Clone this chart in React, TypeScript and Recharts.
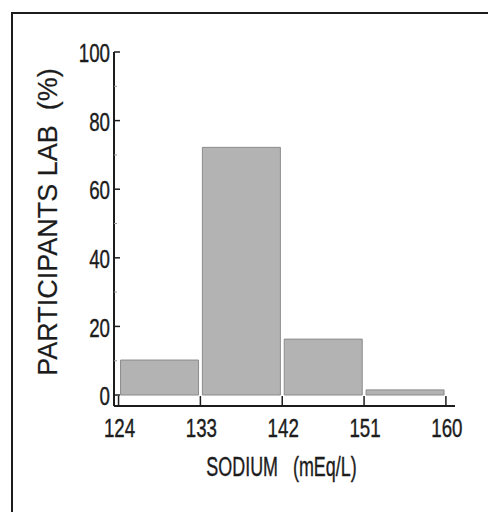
import React from 'react';
import { BarChart, Bar, XAxis, YAxis } from 'recharts';

// Histogram bins (SODIUM mEq/L) and percentages
const binEdges = [124, 133, 142, 151, 160];
const percentValues = [10.2, 72.2, 16.3, 1.5];
const yTicks = [0, 10, 20, 30, 40, 50, 60, 70, 80, 90, 100];
const xTicks = [124, 133, 142, 151, 160];
const xLabel = 'SODIUM   (mEq/L)';
const yLabel = 'PARTICIPANTS LAB  (%)';

const data = percentValues.map((v, i) => ({
  mid: (binEdges[i] + binEdges[i + 1]) / 2,
  pct: v,
}));

const INK = '#1c1c1c';
const FONT = '"Liberation Sans", Arial, sans-serif';

function YTick(props: any) {
  const { x, y, payload } = props;
  const v = payload.value;
  const major = v % 20 === 0;
  return (
    <g>
      <line
        x1={x}
        y1={y}
        x2={x + (major ? 6 : 3)}
        y2={y}
        stroke={major ? INK : '#999'}
        strokeWidth={major ? 1.5 : 1}
      />
      {major && (
        <text
          transform={`translate(${x - 4},${y + 1}) scale(0.72,1)`}
          textAnchor="end"
          dominantBaseline="central"
          fontSize={26}
          fill={INK}
          stroke={INK}
          strokeWidth={0.4}
          fontFamily={FONT}
        >
          {v}
        </text>
      )}
    </g>
  );
}

function XTick(props: any) {
  const { x, y, payload } = props;
  return (
    <g>
      <line x1={x} y1={y} x2={x} y2={y - 10} stroke={INK} strokeWidth={1.5} />
      <text
        transform={`translate(${x + 1},${y + 22}) scale(0.72,1)`}
        textAnchor="middle"
        dominantBaseline="central"
        fontSize={26}
        fill={INK}
        stroke={INK}
        strokeWidth={0.4}
        fontFamily={FONT}
      >
        {payload.value}
      </text>
    </g>
  );
}

function XLabel(props: any) {
  const vb = props.viewBox;
  return (
    <text
      transform={`translate(${vb.x + vb.width / 2 - 3},${vb.y + 60}) scale(0.64,1)`}
      textAnchor="middle"
      dominantBaseline="central"
      fontSize={28}
      fill={INK}
      stroke={INK}
      strokeWidth={0.4}
      fontFamily={FONT}
      style={{ whiteSpace: 'pre' }}
    >
      {xLabel}
    </text>
  );
}

function YLabel(props: any) {
  const vb = props.viewBox;
  const cx = vb.x + 48;
  const cy = vb.y + 170;
  return (
    <text
      transform={`translate(${cx},${cy}) rotate(-90)`}
      textAnchor="middle"
      dominantBaseline="central"
      fontSize={27}
      fill={INK}
      stroke={INK}
      strokeWidth={0.2}
      fontFamily={FONT}
      style={{ whiteSpace: 'pre' }}
    >
      {yLabel}
    </text>
  );
}

export default function App() {
  return (
    <div
      style={{
        position: 'relative',
        width: 496,
        height: 520,
        margin: -8,
        overflow: 'hidden',
        background: '#fff',
      }}
    >
      <div
        style={{
          position: 'absolute',
          left: 11,
          top: 12,
          width: 600,
          height: 600,
          border: `2px solid ${INK}`,
        }}
      />
      <div style={{ position: 'absolute', left: 0, top: 0 }}>
        <BarChart
          width={496}
          height={520}
          data={data}
          margin={{ top: 52, right: 41, bottom: 24, left: 0 }}
        >
          <XAxis
            type="number"
            dataKey="mid"
            domain={[123.5, 161]}
            ticks={xTicks}
            interval={0}
            height={90}
            tickSize={0}
            tickMargin={0}
            tickLine={false}
            axisLine={{ stroke: INK, strokeWidth: 2 }}
            tick={<XTick />}
            label={XLabel}
          />
          <YAxis
            type="number"
            domain={[-3.2, 100]}
            ticks={yTicks}
            interval={0}
            width={114}
            tickSize={0}
            tickMargin={0}
            tickLine={false}
            axisLine={{ stroke: INK, strokeWidth: 2 }}
            tick={<YTick />}
            label={YLabel}
          />
          <Bar
            dataKey="pct"
            barSize={78}
            fill="#b3b3b3"
            stroke="#8c8c8c"
            strokeWidth={1}
            isAnimationActive={false}
          />
        </BarChart>
      </div>
    </div>
  );
}
